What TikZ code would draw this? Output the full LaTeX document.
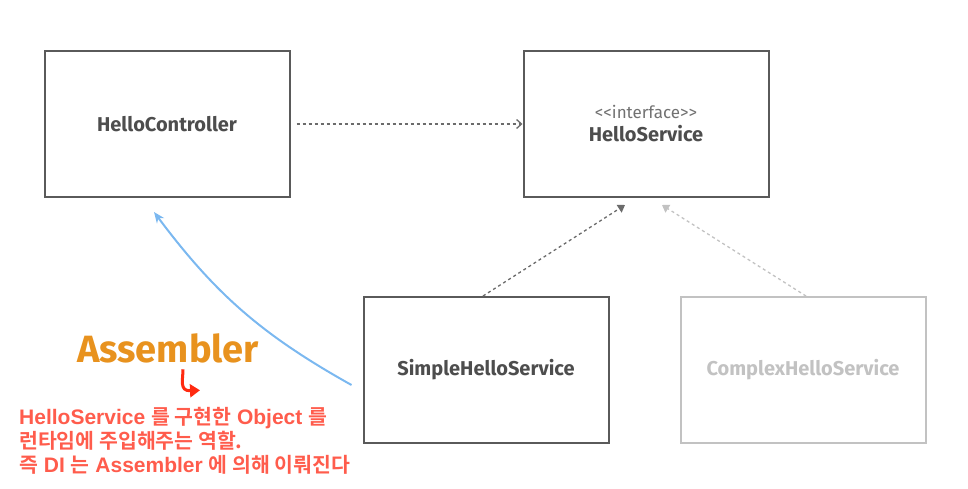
\documentclass[tikz,border=0pt]{standalone}
\usepackage{fontspec}
\setmainfont{Fira Sans}
\newfontfamily\krfont{Noto Sans CJK KR Bold}
\newfontfamily\notefont{Liberation Sans Bold}
\newcommand{\kr}[1]{{\krfont\fontsize{20.5}{24}\selectfont #1}}
\usetikzlibrary{arrows.meta,positioning}
\definecolor{boxgray}{HTML}{5A5A5A}
\definecolor{textgray}{HTML}{4D4D4D}
\definecolor{lightgray}{HTML}{C2C2C2}
\definecolor{assemblyblue}{HTML}{7BB8F0}
\definecolor{assemblyorange}{HTML}{E8921E}
\definecolor{noteRed}{HTML}{FF5C4C}
\definecolor{pointRed}{HTML}{FF2A10}
\begin{document}
\begin{tikzpicture}[x=1pt,y=-1pt,
  classbox/.style={draw=boxgray, line width=2pt, minimum width=245pt, minimum height=146pt,
    font=\bfseries\fontsize{20}{22}\selectfont, text=textgray, align=center},
  faded/.style={draw=lightgray, text=lightgray},
  uses/.style={dashed, dash pattern=on 3pt off 3pt, line width=1.3pt, draw=boxgray!90,
    -{Straight Barb[length=5pt,width=9pt]}},
  realizes/.style={dashed, dash pattern=on 3pt off 3pt, line width=1.3pt, draw=boxgray!90,
    -{Triangle[length=7pt,width=9pt]}}]
\useasboundingbox (0,0) rectangle (968,488);
% the four classes
\node[classbox] (ctrl) at (167,124) {HelloController};
\node[classbox] (svc) at (646,124) {{\mdseries\fontsize{17}{18}\selectfont\color{textgray!80}\textless\kern0pt\textless interface\textgreater\kern0pt\textgreater}\\[1pt]HelloService};
\node[classbox] (simple) at (486,370) {SimpleHelloService};
\node[classbox, faded] (complex) at (803,370) {ComplexHelloService};
% dependency and realizations
\draw[uses, shorten <=6pt] (ctrl.east) -- (svc.west);
\draw[realizes] ([xshift=-3pt]simple.north) -- ([xshift=-21pt,yshift=-7pt]svc.south);
\draw[realizes, draw=lightgray] ([xshift=3pt]complex.north) -- ([xshift=16pt,yshift=-7pt]svc.south);
% the assembler injects the object
\draw[assemblyblue, line width=2pt, -{Stealth[length=11pt,width=9pt]}]
  ([xshift=-11pt,yshift=-15pt]simple.west) to[bend left=12] ([xshift=-13pt,yshift=-14pt]ctrl.south);
\node[font=\bfseries\fontsize{38}{40}\selectfont, text=assemblyorange] (asm) at (168,348) {Assembler};
\coordinate (hook) at ([xshift=15pt,yshift=-3pt]asm.south);
\coordinate (hookEnd) at ([xshift=32pt,yshift=-24pt]asm.south);
\draw[pointRed, line width=3pt, -{Triangle[length=10pt,width=13pt]}]
  (hook) .. controls ([yshift=-10pt]hook) and ([xshift=-4pt,yshift=-22pt]hook) .. (hookEnd);
% the note
\node[anchor=north west, font=\notefont\fontsize{21}{24}\selectfont, text=noteRed,
  align=left, inner sep=0pt] (note) at (19,407)
  {HelloService \kr{를 구현한} Object \kr{를}\\\kr{런타임에 주입해주는 역할.}\\\kr{즉} DI \kr{는} Assembler \kr{에 의해 이뤄진다}};
\end{tikzpicture}
\end{document}
